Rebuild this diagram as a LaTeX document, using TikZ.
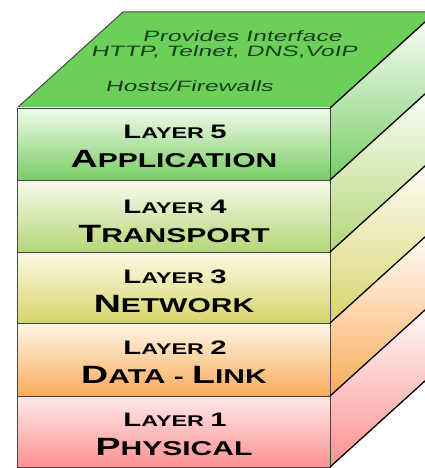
\documentclass[tikz,border=0pt]{standalone}
\usepackage{fontspec}
\newfontfamily\capsfont{Liberation Sans}[FakeStretch=1.5]
\newfontfamily\notefont{Liberation Sans}[FakeStretch=1.65, FakeSlant=0.22]
% size switches for the hand-made small caps
\newcommand\lyrA{\fontsize{19.5}{19.5}\selectfont}
\newcommand\lyrB{\fontsize{15.5}{15.5}\selectfont}
\newcommand\nmA{\fontsize{25}{25}\selectfont}
\newcommand\nmB{\fontsize{20}{20}\selectfont}

\definecolor{topgreen}{RGB}{106,208,90}
\definecolor{notegreen}{RGB}{30,62,30}
\definecolor{edgegray}{RGB}{70,70,70}
\definecolor{cFiveT}{RGB}{242,250,236}
\definecolor{cFiveB}{RGB}{120,205,100}
\definecolor{cFourT}{RGB}{248,250,236}
\definecolor{cFourB}{RGB}{180,214,120}
\definecolor{cThreeT}{RGB}{252,250,230}
\definecolor{cThreeB}{RGB}{215,212,105}
\definecolor{cTwoT}{RGB}{255,246,232}
\definecolor{cTwoB}{RGB}{250,172,90}
\definecolor{cOneT}{RGB}{255,234,234}
\definecolor{cOneB}{RGB}{252,145,145}

\tikzset{
  frontface/.style={draw=edgegray, line width=0.9pt},
  sideedge/.style={draw=black, line width=1.3pt},
  layertitle/.style={font=\capsfont\bfseries, anchor=base, inner sep=0pt, text=black},
  topnote/.style={font=\notefont\fontsize{15}{15}\selectfont, anchor=base, inner sep=0pt, text=notegreen},
  % vertical shading over the slanted face: white up right, colour down left
  sideshade/.style={top color=white, bottom color=#1},
}
% side face of the slab whose front runs from y=#1 down to y=#2
\newcommand\sideface[3]{%
  \shade[sideshade=#3] (330,#1) -- (436,#1-96) -- (436,#2-96) -- (330,#2) -- cycle;}

\begin{document}
\begin{tikzpicture}[x=1pt, y=-1pt]
\useasboundingbox (0,0) rectangle (425,468);
\clip (0,0) rectangle (425,468);

% corners of the block
\coordinate (fl) at (17,108);
\coordinate (fr) at (330,108);
\coordinate (br) at (436,12);
\coordinate (bl) at (123,12);

% lid
\fill[topgreen] (fl) -- (fr) -- (br) -- (bl) -- cycle;
\draw[edgegray, line width=1pt] (fl) -- (bl) -- (br);

% slanted side faces
\sideface{108}{180}{cFiveB}
\sideface{180}{252}{cFourB}
\sideface{252}{323}{cThreeB}
\sideface{323}{396}{cTwoB}
\sideface{396}{467}{cOneB}

% front faces
\shade[top color=cFiveT, bottom color=cFiveB] (17,108) rectangle (330,180);
\shade[top color=cFourT, bottom color=cFourB] (17,180) rectangle (330,252);
\shade[top color=cThreeT, bottom color=cThreeB] (17,252) rectangle (330,323);
\shade[top color=cTwoT, bottom color=cTwoB] (17,323) rectangle (330,396);
\shade[top color=cOneT, bottom color=cOneB] (17,396) rectangle (330,467);
\draw[frontface] (17,108) rectangle (330,180);
\draw[frontface] (17,180) rectangle (330,252);
\draw[frontface] (17,252) rectangle (330,323);
\draw[frontface] (17,323) rectangle (330,396);
\draw[frontface] (17,396) rectangle (330,467);

% edges between the side faces
\coordinate (s0) at (330,108);
\coordinate (s1) at (330,180);
\coordinate (s2) at (330,252);
\coordinate (s3) at (330,323);
\coordinate (s4) at (330,396);
\coordinate (s5) at (330,467);
\foreach \k in {0,...,5} {
  \draw[sideedge] (s\k) -- ++(106,-96);
}

% lid notes
\node[topnote] (n1) at (242,42) {Provides Interface};
\node[topnote] (n2) at (224,57) {HTTP, Telnet, DNS,VoIP};
\node[topnote] (n3) at (189,92) {Hosts/Firewalls};

% layer labels
\node[layertitle] (t5) at (175,138) {\lyrA L\lyrB AYER \lyrA 5};
\node[layertitle] (l5) at (174,167) {\nmA A\nmB PPLICATION};
\node[layertitle] (t4) at (175,213) {\lyrA L\lyrB AYER \lyrA 4};
\node[layertitle] (l4) at (174,242) {\nmA T\nmB RANSPORT};
\node[layertitle] (t3) at (175,283) {\lyrA L\lyrB AYER \lyrA 3};
\node[layertitle] (l3) at (174,312) {\nmA N\nmB ETWORK};
\node[layertitle] (t2) at (175,354) {\lyrA L\lyrB AYER \lyrA 2};
\node[layertitle] (l2) at (174,383) {\nmA D\nmB ATA - \nmA L\nmB INK};
\node[layertitle] (t1) at (175,426) {\lyrA L\lyrB AYER \lyrA 1};
\node[layertitle] (l1) at (174,455) {\nmA P\nmB HYSICAL};
\end{tikzpicture}
\end{document}
